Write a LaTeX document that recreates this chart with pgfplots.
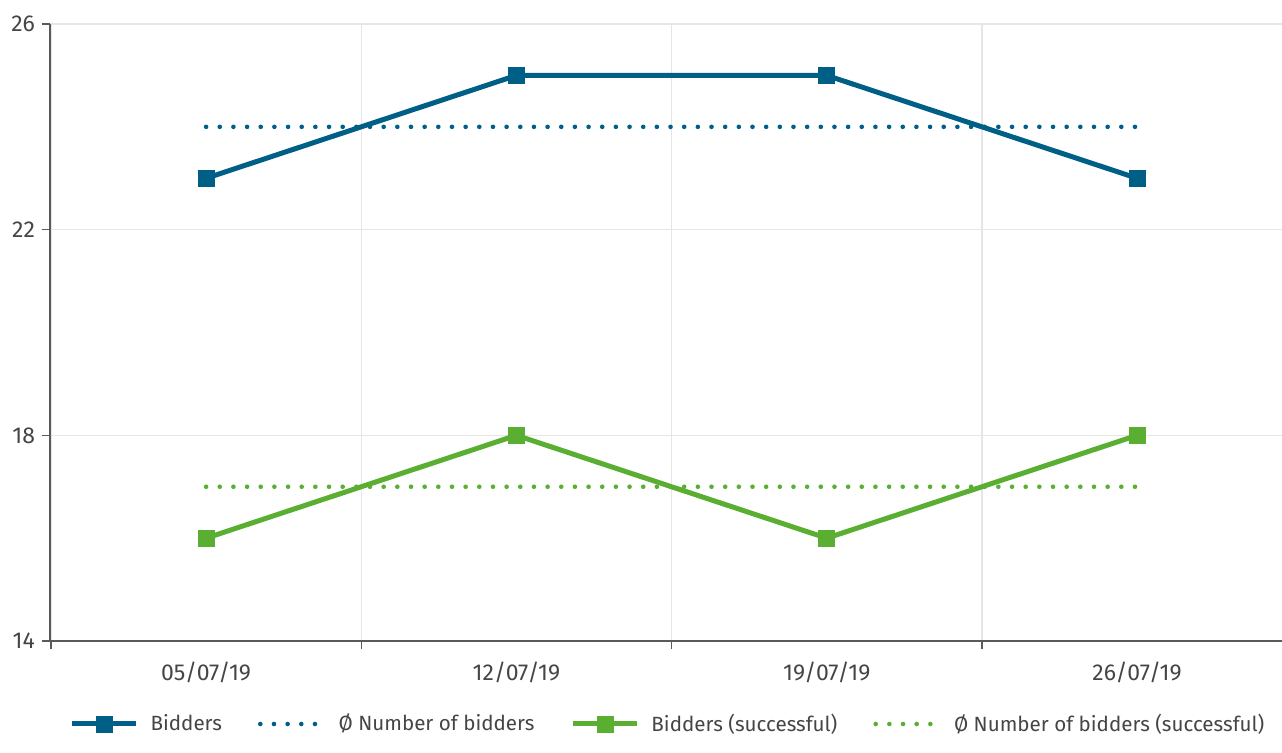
\documentclass[border=0pt]{standalone}
\usepackage{pgfplots}
\pgfplotsset{compat=1.18}
\usepackage{fontspec}
\setmainfont{Fira Sans}
\definecolor{cblue}{HTML}{005F87}
\definecolor{cgreen}{HTML}{5AAF32}
\definecolor{txt}{HTML}{454545}
\definecolor{axl}{HTML}{5A5A5A}
\definecolor{grd}{HTML}{E6E6E6}
\begin{document}
\begin{tikzpicture}
\useasboundingbox (-25pt,-55.5pt) rectangle (616pt,320.5pt);
\begin{axis}[at={(0,0)}, anchor=south west, scale only axis,
 width=616pt, height=308.5pt,
 xmin=-0.503, xmax=3.467, ymin=14, ymax=26,
 xtick={-0.5,0.5,1.5,2.5,3.5}, xticklabels={{},{},{},{},{}},
 extra x ticks={0,1,2,3},
 extra x tick labels={05/07/19,12/07/19,19/07/19,26/07/19},
 extra x tick style={major tick length=0pt, grid=none},
 ytick={14,18,22,26},
 xmajorgrids, ymajorgrids,
 grid style={grd, line width=0.6pt},
 tick align=outside, major tick length=4pt,
 axis x line*=bottom, axis y line*=left,
 axis line style={axl, line width=0.75pt, -},
 tick style={axl, line width=0.75pt},
 every tick label/.append style={font=\fontsize{11.5}{13}\selectfont, text=txt},
 xticklabel style={yshift=-7pt},
 /pgf/number format/assume math mode=true,
 legend columns=4,
 legend style={at={(0.5024,-0.1345)}, anchor=center, draw=none, fill=none,
   font=\fontsize{10.3}{12}\selectfont, text=txt,
   /tikz/every odd column/.append style={column sep=4pt},
   /tikz/every even column/.append style={column sep=16pt}},
 legend image code/.code={\draw[mark repeat=2,mark phase=2,#1] plot coordinates {(0pt,0pt) (16pt,0pt) (32pt,0pt)};},
]
\addplot[cblue, line width=2.5pt, mark=square*, mark size=4pt, mark options={solid, line width=0.3pt}]
 coordinates {(0,23) (1,25) (2,25) (3,23)};
\addlegendentry{Bidders}
\addplot[cblue, line width=2.3pt, line cap=round, dash pattern=on 0pt off 6.83pt]
 coordinates {(0,24) (1,24) (2,24) (3,24)};
\addlegendentry{Ø Number of bidders}
\addplot[cgreen, line width=2.5pt, mark=square*, mark size=4pt, mark options={solid, line width=0.3pt}]
 coordinates {(0,16) (1,18) (2,16) (3,18)};
\addlegendentry{Bidders (successful)}
\addplot[cgreen, line width=2.3pt, line cap=round, dash pattern=on 0pt off 6.83pt]
 coordinates {(0,17) (1,17) (2,17) (3,17)};
\addlegendentry{Ø Number of bidders (successful)}
\end{axis}
\end{tikzpicture}
\end{document}
